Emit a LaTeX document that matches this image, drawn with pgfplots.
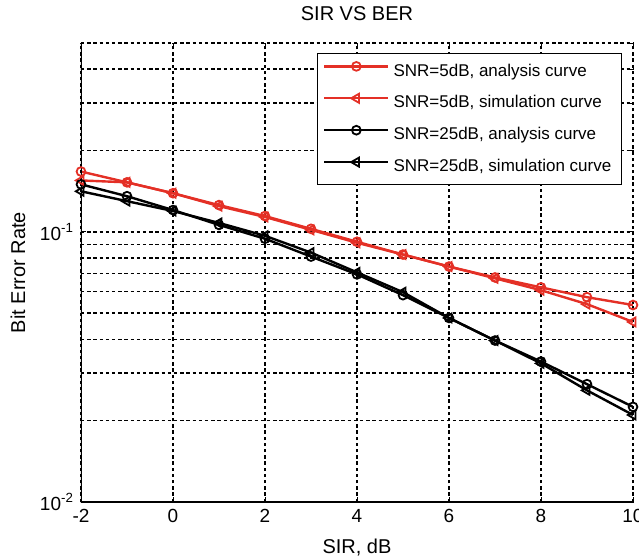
\documentclass[border=0pt]{standalone}
\usepackage{fontspec}
\setmainfont{Liberation Sans}
\usepackage{pgfplots}
\pgfplotsset{compat=1.18}
\definecolor{matred}{RGB}{228,48,38}

\begin{document}
\begin{tikzpicture}
\begin{axis}[
    name=ber,
    scale only axis,
    width=276pt,
    height=229.5pt,
    ymode=log,
    xmin=-2, xmax=10,
    ymin=0.01, ymax=0.5,
    xtick={-2,0,...,10},
    xticklabels={-2,0,2,4,6,8,10},
    ytick={0.01,0.1},
    yticklabels={10\textsuperscript{-2},10\textsuperscript{-1}},
    minor ytick={0.02,0.03,0.04,0.05,0.06,0.07,0.08,0.09,0.2,0.3,0.4,0.5},
    tick label style={font=\fontsize{9.5}{10}\selectfont},
    tick align=inside,
    major tick length=2.5pt,
    minor tick length=1.5pt,
    tick style={black, line width=0.4pt},
    xmajorgrids, ymajorgrids, yminorgrids,
    major grid style={black, line width=0.7pt, dash pattern=on 1.7pt off 1.4pt},
    minor grid style={black, line width=0.7pt, dash pattern=on 1.7pt off 1.4pt},
    axis line style={draw=none},
    title={SIR VS BER},
    title style={at={(axis description cs:0.5,1.037)}, anchor=center, font=\fontsize{10}{11}\selectfont},
    xlabel={SIR, dB},
    xlabel style={at={(axis description cs:0.5,-0.100)}, anchor=center, font=\fontsize{10}{11}\selectfont},
    ylabel={Bit Error Rate},
    ylabel style={at={(axis description cs:-0.114,0.5)}, anchor=center, font=\fontsize{10}{11}\selectfont},
    legend cell align=left,
    legend image code/.code={
        \draw[mark repeat=2, mark phase=2] plot coordinates {(0pt,2.5pt) (16pt,2.5pt) (32pt,2.5pt)};
    },
    legend style={
        at={(0.98,0.978)}, anchor=north east,
        draw=black, line width=0.6pt,
        font=\fontsize{8.5}{9}\selectfont,
        row sep=4.3pt,
        inner sep=3pt,
    },
]

% SNR=5dB, analysis
\addplot[matred, line width=1.2pt, mark=o, mark size=2.2pt, mark options={solid, line width=0.9pt}] coordinates {
    (-2,0.1672) (-1,0.1525) (0,0.1390) (1,0.1256) (2,0.1144) (3,0.1026) (4,0.0919)
    (5,0.0824) (6,0.0744) (7,0.0678) (8,0.0623) (9,0.0573) (10,0.0536)
};

% SNR=5dB, simulation
\addplot[matred, line width=1.2pt, mark=triangle, mark size=2.6pt, mark options={solid, rotate=90, line width=0.9pt}] coordinates {
    (-2,0.1550) (-1,0.1525) (0,0.1390) (1,0.1245) (2,0.1135) (3,0.1017) (4,0.0911)
    (5,0.0824) (6,0.0744) (7,0.0673) (8,0.0608) (9,0.0540) (10,0.0464)
};

% SNR=25dB, analysis
\addplot[black, line width=1.2pt, mark=o, mark size=2.2pt, mark options={solid, line width=0.9pt}] coordinates {
    (-2,0.1499) (-1,0.1355) (0,0.1204) (1,0.1061) (2,0.0943) (3,0.0810) (4,0.0696)
    (5,0.0583) (6,0.0480) (7,0.0396) (8,0.0331) (9,0.0273) (10,0.0225)
};

% SNR=25dB, simulation
\addplot[black, line width=1.2pt, mark=triangle, mark size=2.6pt, mark options={solid, rotate=90, line width=0.9pt}] coordinates {
    (-2,0.1413) (-1,0.1299) (0,0.1194) (1,0.1079) (2,0.0967) (3,0.0838) (4,0.0708)
    (5,0.0598) (6,0.0480) (7,0.0396) (8,0.0326) (9,0.0259) (10,0.0210)
};

\legend{{SNR=5dB, analysis curve}, {SNR=5dB, simulation curve}, {SNR=25dB, analysis curve}, {SNR=25dB, simulation curve}}

\draw[black, line width=0.7pt] (rel axis cs:0,1) -- (rel axis cs:0,0) -- (rel axis cs:1,0);
\end{axis}
\pgfresetboundingbox
\path (ber.south west) ++(-40.5pt,-28.5pt) rectangle ++(319.5pt,279.5pt);
\end{tikzpicture}
\end{document}
